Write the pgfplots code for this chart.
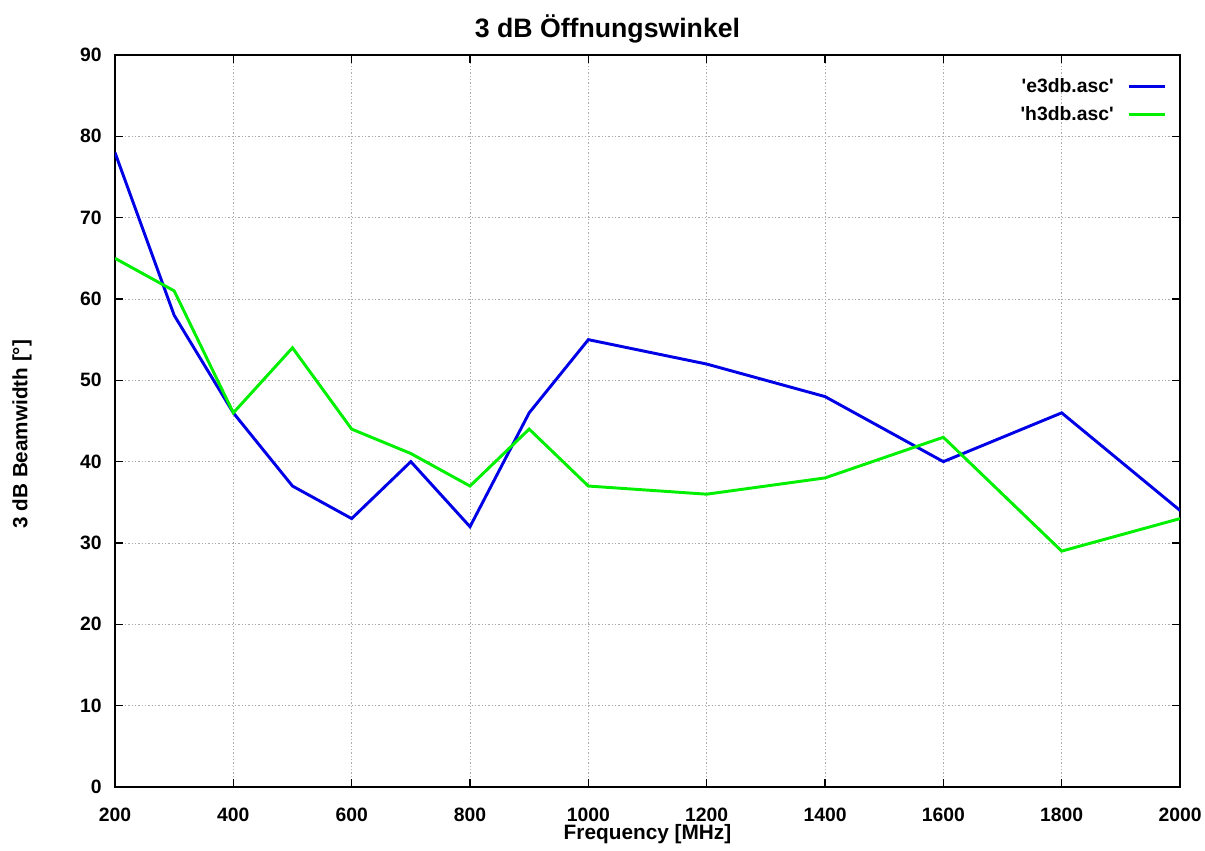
\documentclass[border=0pt]{standalone}
\usepackage{pgfplots}
\pgfplotsset{compat=1.18}
\usepackage{fontspec}
\setmainfont{Liberation Sans}
\begin{document}
\begin{tikzpicture}
\begin{axis}[
  name=ax,
  scale only axis,
  width=798.75pt, height=549pt,
  xmin=200, xmax=2000, ymin=0, ymax=90,
  xtick={200,400,...,2000},
  ytick={0,10,...,90},
  /pgf/number format/assume math mode=true,
  /pgf/number format/set thousands separator={},
  tick label style={font=\fontsize{14.5pt}{16pt}\selectfont\bfseries},
  xticklabel style={anchor=base, inner sep=0pt, yshift=-26.25pt},
  yticklabel style={anchor=east, inner sep=0pt, xshift=-9.75pt},
  tick align=inside,
  major tick length=6pt,
  axis line style={line width=1pt},
  every tick/.style={black, line width=0.8pt},
  grid=major,
  major grid style={gray!65, line width=0.7pt, dash pattern=on 1pt off 1.5pt},
  title={3 dB Öffnungswinkel},
  title style={font=\fontsize{20pt}{22pt}\selectfont\bfseries, at={(axis description cs:0.5,1)}, anchor=base, yshift=6.75pt, xshift=-30pt, inner sep=0pt},
  xlabel={Frequency [MHz]},
  xlabel style={font=\fontsize{15.6pt}{17pt}\selectfont\bfseries, at={(axis description cs:0.5,-0.0724)}, anchor=base, inner sep=0pt},
  ylabel={3 dB Beamwidth [°]},
  ylabel style={font=\fontsize{15.5pt}{17pt}\selectfont\bfseries, at={(axis description cs:-0.0873,0.482)}, anchor=center, inner sep=0pt},
  legend plot pos=right,
  legend cell align=right,
  legend style={draw=none, fill=none, at={(axis description cs:0.991,0.975)}, anchor=north east,
    font=\fontsize{14.5pt}{16pt}\selectfont\bfseries, row sep=4.5pt, column sep=8pt,
    nodes={inner sep=2pt}},
  legend image code/.code={\draw[#1, line width=2.4pt] (0pt,0pt) -- (27pt,0pt);},
]
\addplot[color={rgb,255:red,0;green,0;blue,230}, line width=2.2pt] coordinates {
(200,78) (300,58) (400,46) (500,37) (600,33) (700,40) (800,32) (900,46)
(1000,55) (1200,52) (1400,48) (1600,40) (1800,46) (2000,34)};
\addlegendentry{\textquotesingle e3db.asc\textquotesingle}
\addplot[color={rgb,255:red,0;green,240;blue,0}, line width=2.2pt] coordinates {
(200,65) (300,61) (400,46) (500,54) (600,44) (700,41) (800,37) (900,44)
(1000,37) (1200,36) (1400,38) (1600,43) (1800,29) (2000,33)};
\addlegendentry{\textquotesingle h3db.asc\textquotesingle}
\end{axis}
\pgfresetboundingbox
\path[use as bounding box] ([shift={(-86.25pt,-48pt)}]ax.south west) rectangle ([shift={(18.75pt,41.25pt)}]ax.north east);
\end{tikzpicture}
\end{document}
